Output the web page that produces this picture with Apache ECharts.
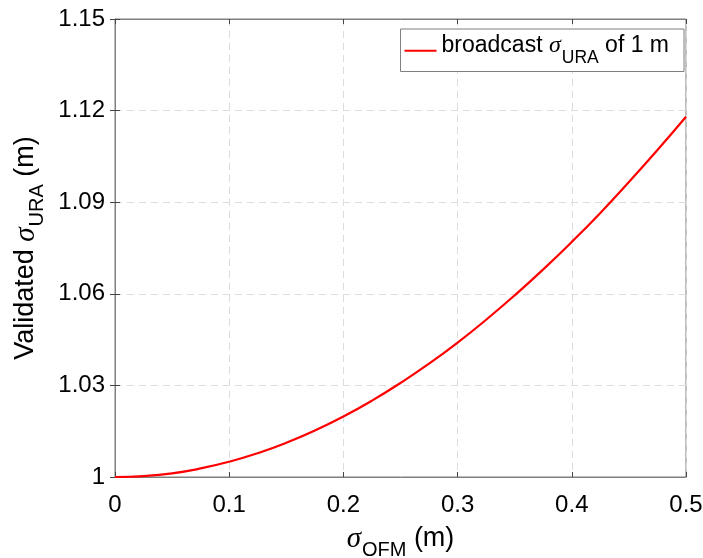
<!DOCTYPE html>
<html>
<head>
<meta charset="utf-8">
<script src="https://cdn.jsdelivr.net/npm/echarts@6/dist/echarts.min.js"></script>
<style>
  html, body { margin: 0; padding: 0; background: #fff; }
  #chart { width: 703px; height: 558px; }
</style>
</head>
<body>
<div id="chart"></div>
<script>
// sigma_OFM (m) sample positions
const sigmaOFM = [0, 0.025, 0.05, 0.075, 0.1, 0.125, 0.15, 0.175, 0.2, 0.225, 0.25,
                  0.275, 0.3, 0.325, 0.35, 0.375, 0.4, 0.425, 0.45, 0.475, 0.5];
// validated sigma_URA (m) for a broadcast sigma_URA of 1 m
const validatedURA = [1.0000, 1.0003, 1.0012, 1.0028, 1.0050, 1.0078, 1.0112, 1.0152,
                      1.0198, 1.0250, 1.0308, 1.0371, 1.0440, 1.0515, 1.0595, 1.0680,
                      1.0770, 1.0865, 1.0966, 1.1071, 1.1180];
const seriesName = 'broadcast σURA of 1 m';
const xTicks = { min: 0, max: 0.5, step: 0.1 };
const yTicks = { min: 1, max: 1.15, step: 0.03 };

const FONT = '"Liberation Sans", Arial, Helvetica, sans-serif';
const SERIF = '"Liberation Serif", "Times New Roman", serif';
const AXIS_GRAY = '#7f7f7f';

const points = sigmaOFM.map((x, i) => [x, validatedURA[i]]);

// rich-text styles for "main σ_sub" labels: main tokens sit at the top of the
// line, the subscript sits at the bottom (its top padding sets the drop)
function subRich(main, sigma, sub, drop) {
  return {
    t: { fontFamily: FONT, fontSize: main, color: '#000', verticalAlign: 'top' },
    s: { fontFamily: SERIF, fontStyle: 'italic', fontSize: sigma, color: '#000', verticalAlign: 'top' },
    sub: { fontFamily: FONT, fontSize: sub, color: '#000', verticalAlign: 'bottom', padding: [drop, 0, 0, 1] }
  };
}

const gridLines = {
  show: true,
  lineStyle: { color: '#dcdcdc', width: 1, type: [7, 5] }
};

const mirrorTicks = { show: true, inside: true, length: 5, lineStyle: { color: '#444', width: 1 } };

const chart = echarts.init(document.getElementById('chart'), null, { renderer: 'canvas' });
chart.setOption({
  animation: false,
  backgroundColor: '#ffffff',
  textStyle: { fontFamily: FONT },
  grid: {
    left: 115, right: 17, top: 19, bottom: 81,
    outerBoundsMode: 'none',
    containLabel: false,
    show: true, borderColor: AXIS_GRAY, borderWidth: 1, backgroundColor: 'transparent'
  },
  legend: {
    right: 19, top: 29,
    orient: 'horizontal',
    padding: [5, 15, 4, 4],
    itemWidth: 32, itemHeight: 2,
    borderColor: AXIS_GRAY, borderWidth: 1, borderRadius: 0,
    backgroundColor: '#ffffff',
    data: [{ name: seriesName, icon: 'rect' }],
    formatter: () => '{t|broadcast }{s|σ}{sub|URA}{t| of 1 m}',
    textStyle: {
      color: '#000',
      rich: subRich(23, 24, 17.5, 15.5)
    }
  },
  xAxis: [{
    type: 'value',
    min: xTicks.min, max: xTicks.max, interval: xTicks.step,
    name: '{s|σ}{sub|OFM}{t| (m)}',
    nameLocation: 'middle', nameGap: 48,
    nameTextStyle: { rich: subRich(27, 29, 20, 15) },
    axisLine: { show: true, lineStyle: { color: AXIS_GRAY, width: 1 } },
    axisTick: { show: true, inside: true, length: 5, lineStyle: { color: '#444' } },
    axisLabel: {
      color: '#000', fontSize: 24, fontFamily: FONT, margin: 16,
      formatter: v => String(Math.round(v * 10) / 10)
    },
    splitLine: gridLines
  }, {
    type: 'value', position: 'top',
    min: xTicks.min, max: xTicks.max, interval: xTicks.step,
    axisLine: { show: true, lineStyle: { color: AXIS_GRAY } },
    axisTick: mirrorTicks, axisLabel: { show: false }, splitLine: { show: false }
  }],
  yAxis: [{
    type: 'value',
    min: yTicks.min, max: yTicks.max, interval: yTicks.step,
    name: '{t|Validated }{s|σ}{sub|URA}{t| (m)}',
    nameLocation: 'middle', nameGap: 68, nameRotate: 90,
    nameTextStyle: { rich: subRich(27, 29, 20, 15) },
    axisLine: { show: true, lineStyle: { color: AXIS_GRAY, width: 1 } },
    axisTick: { show: true, inside: true, length: 5, lineStyle: { color: '#444' } },
    axisLabel: {
      color: '#000', fontSize: 24, fontFamily: FONT, margin: 10,
      formatter: v => {
        const r = Math.round(v * 100) / 100;
        return r === 1 ? '1' : r.toFixed(2);
      }
    },
    splitLine: gridLines
  }, {
    type: 'value', position: 'right',
    min: yTicks.min, max: yTicks.max, interval: yTicks.step,
    axisLine: { show: true, lineStyle: { color: AXIS_GRAY } },
    axisTick: mirrorTicks, axisLabel: { show: false }, splitLine: { show: false }
  }],
  series: [{
    name: seriesName,
    type: 'line',
    xAxisIndex: 0, yAxisIndex: 0,
    data: points,
    smooth: true,
    showSymbol: false,
    symbol: 'none',
    lineStyle: { color: '#ff0000', width: 2.2 },
    itemStyle: { color: '#ff0000' },
    z: 5
  }]
});
</script>
</body>
</html>
